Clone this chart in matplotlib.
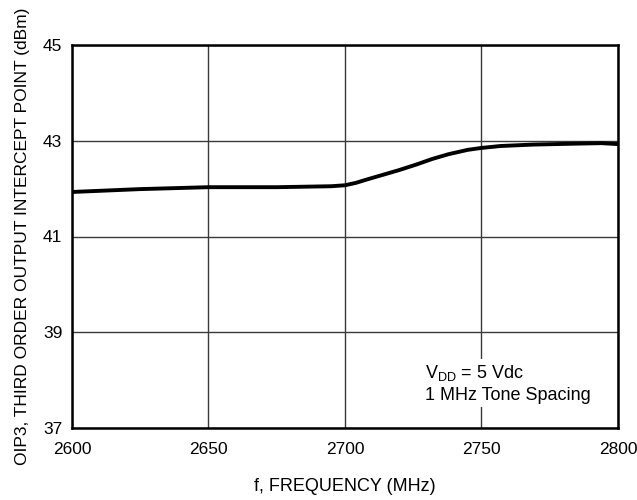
import matplotlib.pyplot as plt

plt.rcParams['font.family'] = ['Liberation Sans', 'DejaVu Sans']

freq = [2600, 2625, 2650, 2675, 2695, 2700, 2704, 2708, 2714, 2720, 2726, 2732, 2738, 2745,
        2750, 2757, 2769, 2785, 2794, 2800]
oip3 = [41.93, 41.99, 42.03, 42.03, 42.05, 42.07, 42.12, 42.19, 42.29, 42.39, 42.5, 42.62,
        42.72, 42.81, 42.85, 42.89, 42.92, 42.94, 42.95, 42.93]

xticks = [2600, 2650, 2700, 2750, 2800]
yticks = [37, 39, 41, 43, 45]

fig = plt.figure(figsize=(6.37, 5), dpi=100)
ax = fig.add_axes([0.113, 0.144, 0.857, 0.766])

ax.plot(freq, oip3, color='black', linewidth=2.8, solid_capstyle='butt')

ax.set_xlim(2600, 2800)
ax.set_ylim(37, 45)
ax.set_xticks(xticks)
ax.set_yticks(yticks)
ax.grid(True, color='#3a3a3a', linewidth=1.0)
ax.tick_params(length=0, labelsize=12.5)
ax.tick_params(axis='x', pad=10)
ax.tick_params(axis='y', pad=7)
for s in ax.spines.values():
    s.set_linewidth(1.8)

ax.set_xlabel('f, FREQUENCY (MHz)', fontsize=13, labelpad=15)
ax.set_ylabel('OIP3, THIRD ORDER OUTPUT INTERCEPT POINT (dBm)', fontsize=12.5, labelpad=9)

ax.text(2729.5, 37.5, '$\\mathregular{V_{DD}}$ = 5 Vdc\n1 MHz Tone Spacing', fontsize=13,
        va='bottom', ha='left', linespacing=1.35,
        bbox=dict(facecolor='white', edgecolor='none', pad=2))

fig.savefig('out.png', dpi=100)
